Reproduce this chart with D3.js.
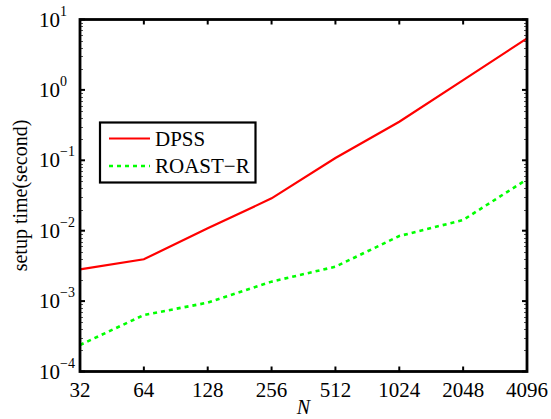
<!DOCTYPE html>
<html>
<head>
<meta charset="utf-8">
<script src="https://cdn.jsdelivr.net/npm/d3@7"></script>
<style>
  html, body { margin: 0; padding: 0; background: #fff; }
  svg { display: block; }
</style>
</head>
<body>
<svg id="chart" width="551" height="419"></svg>
<script>
// Problem sizes (x axis) and setup times in seconds
const sizes = [32, 64, 128, 256, 512, 1024, 2048, 4096];
const dpss = [0.00283, 0.00393, 0.0108, 0.0288, 0.108, 0.353, 1.38, 5.4];
const roastR = [0.000238, 0.000635, 0.00095, 0.00189, 0.00308, 0.0084, 0.0142, 0.0537];
const yTickExps = [-4, -3, -2, -1, 0, 1];
const seriesNames = ["DPSS", "ROAST\u2212R"];

const SERIF = "Times";

const svg = d3.select("#chart");
const m = { left: 80, right: 527, top: 19.5, bottom: 371.5 };

const x = d3.scaleLog().base(2).domain([32, 4096]).range([m.left, m.right]);
const y = d3.scaleLog().domain([1e-4, 1e1]).range([m.bottom, m.top]);

function label(sel) {
  return sel.append("text").style("font-family", SERIF).style("fill", "#000");
}

// minor ticks on log y axis (both sides, pointing inward)
const minor = [];
for (let e = -4; e < 1; e++) for (let k = 2; k <= 9; k++) minor.push(k * Math.pow(10, e));
const minorG = svg.append("g").attr("stroke", "#555").attr("stroke-width", 1);
minor.forEach(v => {
  const yy = Math.round(y(v)) + 0.5;
  minorG.append("line").attr("x1", m.left).attr("x2", m.left + 3).attr("y1", yy).attr("y2", yy);
  minorG.append("line").attr("x1", m.right - 3).attr("x2", m.right).attr("y1", yy).attr("y2", yy);
});

// major ticks
const majorG = svg.append("g").attr("stroke", "#000").attr("stroke-width", 2);
yTickExps.forEach(e => {
  const yy = y(Math.pow(10, e));
  majorG.append("line").attr("x1", m.left).attr("x2", m.left + 5).attr("y1", yy).attr("y2", yy);
  majorG.append("line").attr("x1", m.right - 5).attr("x2", m.right).attr("y1", yy).attr("y2", yy);
});
sizes.forEach(s => {
  const xx = x(s);
  majorG.append("line").attr("x1", xx).attr("x2", xx).attr("y1", m.bottom).attr("y2", m.bottom - 5);
  majorG.append("line").attr("x1", xx).attr("x2", xx).attr("y1", m.top).attr("y2", m.top + 5);
});

// data lines
const line = d3.line().x((d, i) => x(sizes[i])).y(d => y(d));
svg.append("path").datum(dpss).attr("d", line)
  .attr("fill", "none").attr("stroke", "#ff0000").attr("stroke-width", 2.2);
svg.append("path").datum(roastR).attr("d", line)
  .attr("fill", "none").attr("stroke", "#00ff00").attr("stroke-width", 2.6)
  .attr("stroke-dasharray", "4,4");

// axes frame
svg.append("rect")
  .attr("x", m.left).attr("y", m.top)
  .attr("width", m.right - m.left).attr("height", m.bottom - m.top)
  .attr("fill", "none").attr("stroke", "#000").attr("stroke-width", 2.8);

// x tick labels
const xl = svg.append("g");
sizes.forEach(s => {
  label(xl).attr("x", x(s)).attr("y", 397)
    .attr("text-anchor", "middle").style("font-size", "21px")
    .text(s);
});

// y tick labels: 10^e
yTickExps.forEach(e => {
  const yy = y(Math.pow(10, e));
  const t = label(svg).attr("y", yy + 7).style("font-size", "21px");
  t.append("tspan").attr("x", 39).text("10");
  t.append("tspan").attr("dy", -11).style("font-size", "14px").text(e < 0 ? "\u2212" + (-e) : e);
});

// axis titles
label(svg)
  .attr("transform", `translate(27, ${(m.top + m.bottom) / 2}) rotate(-90)`)
  .attr("text-anchor", "middle").style("font-size", "20px")
  .text("setup time(second)");
label(svg)
  .attr("x", (m.left + m.right) / 2).attr("y", 414)
  .attr("text-anchor", "middle").style("font-size", "20px").style("font-style", "italic")
  .text("N");

// legend
const lg = svg.append("g");
lg.append("rect").attr("x", 100).attr("y", 122.5).attr("width", 155.5).attr("height", 60)
  .attr("fill", "#fff").attr("stroke", "#000").attr("stroke-width", 2.2);
const legendStyles = [
  { color: "#ff0000", width: 2.2, dash: null, y: 138.5 },
  { color: "#00ff00", width: 2.6, dash: "4,4", y: 166 }
];
seriesNames.forEach((name, i) => {
  const s = legendStyles[i];
  const l = lg.append("line").attr("x1", 109).attr("x2", 150).attr("y1", s.y).attr("y2", s.y)
    .attr("stroke", s.color).attr("stroke-width", s.width);
  if (s.dash) l.attr("stroke-dasharray", s.dash);
  label(lg).attr("x", 155).attr("y", s.y + 7).style("font-size", "21px").text(name);
});
</script>
</body>
</html>
